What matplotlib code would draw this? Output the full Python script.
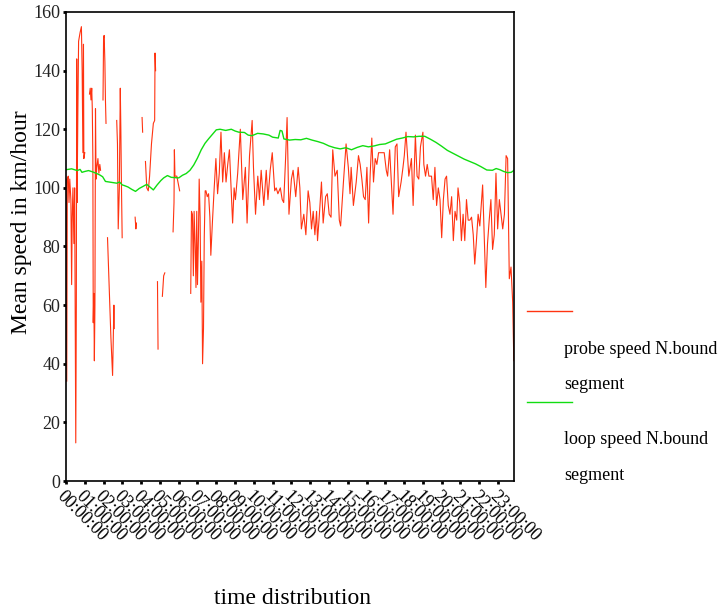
import numpy as np
import matplotlib
matplotlib.use("Agg")
import matplotlib.pyplot as plt
from matplotlib.lines import Line2D

plt.rcParams['font.family'] = ['Liberation Serif', 'DejaVu Serif']

nan = np.nan

# ---- data (hours of day, km/h) ----
loop_hours = [0.0, 0.3, 0.6, 0.75, 0.85, 1.0, 1.2, 1.4, 1.6, 1.8, 1.95, 2.1, 2.3, 2.5, 2.7, 2.85, 3.0, 3.1,
              3.3, 3.5, 3.7, 3.9, 4.1, 4.3, 4.45, 4.65, 4.85, 5.05, 5.2, 5.4, 5.6, 5.8, 6.0, 6.2, 6.4, 6.6,
              6.8, 7.0, 7.2, 7.4, 7.6, 7.8, 8.0, 8.2, 8.5, 8.8, 9.0, 9.2, 9.5, 9.7, 9.9, 10.2, 10.5, 10.8,
              11.0, 11.3, 11.4, 11.5, 11.6, 11.9, 12.2, 12.5, 12.8, 13.1, 13.4, 13.7, 14.0, 14.3, 14.6,
              14.9, 15.2, 15.5, 15.8, 16.1, 16.4, 16.7, 17.0, 17.3, 17.6, 17.9, 18.2, 18.5, 18.8, 19.1,
              19.4, 19.7, 20.0, 20.3, 20.6, 20.9, 21.2, 21.5, 21.8, 22.1, 22.4, 22.7, 22.9, 23.1, 23.3,
              23.5, 23.7, 23.9]
loop_speed = [106.2, 106.5, 105.9, 106.3, 105.3, 105.6, 105.9, 105.5, 105.0, 104.4, 103.8, 102.2, 102.0,
              101.8, 101.6, 102.0, 101.0, 100.8, 100.3, 99.5, 98.8, 99.8, 100.5, 101.2, 100.4, 99.3, 101.0,
              102.5, 103.4, 104.2, 103.6, 103.5, 103.4, 104.3, 104.9, 106.0, 107.8, 110.2, 113.0, 115.2,
              116.8, 118.3, 119.8, 120.0, 119.6, 120.0, 119.4, 119.0, 118.9, 118.0, 117.8, 118.6, 118.4,
              118.0, 117.3, 117.0, 119.6, 119.4, 116.7, 116.3, 116.5, 116.4, 116.9, 116.3, 115.8, 115.2,
              114.3, 113.7, 113.3, 113.7, 113.0, 113.8, 114.4, 114.0, 114.3, 114.8, 115.0, 115.8, 116.6,
              117.0, 117.5, 117.4, 117.6, 117.6, 116.6, 115.5, 114.2, 112.8, 111.8, 110.8, 109.8, 109.0,
              108.2, 107.2, 106.1, 106.0, 106.6, 106.2, 105.6, 105.2, 105.3, 106.2]

probe_hours = [
    0.00, 0.04, 0.07, 0.12, 0.16, 0.20, 0.26, 0.30, 0.33, 0.37, 0.42, 0.46, 0.50, 0.52, 0.55, 0.57, 0.59,
    0.63, 0.67, 0.75, 0.82, 0.86, 0.90, 0.93, 0.95, 1.00, 1.02,
    1.25, 1.29, 1.33, 1.37, 1.40, 1.43, 1.45, 1.48, 1.51, 1.54, 1.57, 1.60, 1.64, 1.70, 1.75, 1.80, 1.84, 1.86,
    1.97, 2.00, 2.03, 2.07, 2.10, 2.13, 2.17, 2.18,
    2.21, 2.30, 2.39, 2.48, 2.55, 2.57, 2.58,
    2.70, 2.74, 2.78, 2.84, 2.89, 2.92, 2.95, 2.99, 3.00,
    3.68, 3.72, 3.75, 3.76,
    4.05, 4.08, 4.09,
    4.23, 4.30, 4.38, 4.45, 4.55, 4.65, 4.72, 4.74, 4.77, 4.78,
    4.87, 4.90, 4.91,
    5.13, 5.20, 5.26, 5.27,
    5.70, 5.75, 5.77, 5.80, 5.90, 6.05, 6.06,
    6.64, 6.68, 6.73, 6.78, 6.82, 6.87, 6.92, 6.96, 7.00, 7.05, 7.09, 7.14, 7.18, 7.23, 7.27, 7.32, 7.36,
    7.41, 7.45, 7.52, 7.59, 7.66, 7.71, 7.80, 7.89, 7.98, 8.07, 8.16, 8.25, 8.34, 8.43, 8.52, 8.61, 8.70,
    8.79, 8.87, 8.95, 9.02, 9.14, 9.28, 9.41, 9.55, 9.64, 9.77, 9.91, 9.98, 10.09, 10.21, 10.30, 10.39,
    10.53, 10.66, 10.75, 10.87, 10.98, 11.11, 11.19, 11.28, 11.41, 11.51, 11.59, 11.69, 11.77, 11.87,
    12.00, 12.09, 12.23, 12.36, 12.45, 12.53, 12.66, 12.77, 12.89, 12.98, 13.07, 13.16, 13.25, 13.34,
    13.39, 13.48, 13.60, 13.69, 13.82, 13.91, 14.01, 14.11, 14.20, 14.32, 14.44, 14.55, 14.62, 14.77,
    14.91, 15.03, 15.12, 15.18, 15.30, 15.45, 15.57, 15.66, 15.75, 15.84, 15.93, 16.02, 16.11, 16.19,
    16.28, 16.37, 16.46, 16.55, 16.64, 16.73, 16.82, 16.94, 17.05, 17.12, 17.23, 17.35, 17.41, 17.53,
    17.62, 17.71, 17.84, 17.94, 18.01, 18.10, 18.25, 18.39, 18.48, 18.60, 18.69, 18.78, 18.87, 19.00,
    19.05, 19.14, 19.23, 19.32, 19.46, 19.55, 19.64, 19.73, 19.82, 19.91, 20.00, 20.09, 20.18, 20.26,
    20.35, 20.44, 20.53, 20.62, 20.71, 20.80, 20.87, 20.96, 21.05, 21.14, 21.23, 21.32, 21.41, 21.50,
    21.59, 21.68, 21.76, 21.85, 21.94, 22.03, 22.18, 22.26, 22.35, 22.44, 22.53, 22.62, 22.71, 22.80,
    22.89, 22.98, 23.07, 23.16, 23.25, 23.34, 23.43, 23.51, 23.60, 23.69, 23.78, 23.84, 23.93, 24.00]
probe_speed = [
    103, 34, 103, 104, 95, 103, 96, 67, 90, 100, 81, 100, 46, 13, 60, 144, 95,
    125, 150, 153, 155, 140, 112, 149, 110, 112, nan,
    132, 134, 130, 134, 127, 110, 54, 64, 41, 60, 127, 103, 107, 110, 105, 108, 106, nan,
    130, 151, 152, 143, 130, 122, nan, nan,
    83, 66, 49, 36, 60, 52, nan,
    123, 115, 86, 100, 134, 120, 102, 83, nan,
    90, 86, 88, nan,
    124, 119, nan,
    109, 100, 99, 104, 115, 122, 123, 146, 140, nan,
    68, 45, nan,
    63, 70, 71, nan,
    85, 95, 113, 104, 104, 99, nan,
    64, 92, 91, 70, 92, 81, 66, 92, 67, 83, 103, 90, 61, 75, 40, 52, 83,
    99, 99, 97, 98, 90, 77, 89, 100, 110, 98, 105, 119, 102, 112, 102, 108, 113,
    100, 88, 100, 96, 105, 120, 96, 107, 88, 111, 123, 107, 91, 104, 96, 106,
    94, 106, 96, 106, 112, 99, 100, 98, 100, 96, 95, 110, 124, 91,
    103, 106, 97, 107, 100, 86, 91, 84, 99, 95, 86, 92, 84, 92,
    82, 90, 102, 88, 97, 98, 91, 90, 113, 104, 106, 89, 87, 102,
    115, 107, 98, 107, 94, 102, 111, 108, 103, 97, 96, 107, 88, 104,
    117, 102, 110, 108, 112, 112, 112, 112, 106, 104, 113, 98, 91, 114,
    115, 97, 102, 107, 111, 119, 104, 110, 94, 118, 104, 103, 114, 119,
    108, 104, 108, 104, 104, 96, 107, 94, 100, 96, 83, 96, 103, 104,
    94, 91, 97, 82, 92, 89, 100, 95, 82, 91, 82, 96, 89, 89,
    90, 84, 74, 82, 91, 87, 101, 84, 66, 81, 89, 96, 79, 84,
    105, 86, 96, 91, 86, 91, 111, 110, 69, 73, 61, 41, 66, 100]

tick_labels = [f"{h:02d}:00:00" for h in range(24)]

# ---- figure ----
fig = plt.figure(figsize=(7.23, 6.11), dpi=100)
ax = fig.add_axes([66/723, 1-481/611, 448/723, 469/611])

ax.plot(probe_hours, probe_speed, color='#ff3311', lw=0.8)
ax.plot(loop_hours, loop_speed, color='#11dd11', lw=1.0)

ax.set_xlim(0, 23.85)
ax.set_ylim(0, 160)
ax.set_yticks(range(0, 161, 20))
ax.set_xticks(range(24))
ax.set_xticklabels(tick_labels, rotation=-45, ha='left', va='top', rotation_mode='anchor', fontsize=13)
ax.tick_params(axis='y', labelsize=13, length=2, width=2, pad=2, color='black', labelcolor='#222222')
ax.tick_params(axis='x', length=2, width=2, pad=3, color='black')
for s in ax.spines.values():
    s.set_linewidth(1.2)
    s.set_color('black')

fig.text(22/723, 1-222/611, "Mean speed in km/hour", rotation=90, ha='center', va='center', fontsize=17)
fig.text(292/723, 1-599/611, "time distribution", ha='center', va='center', fontsize=17)

# legend (manually laid out: handle above wrapped label)
fig.add_artist(Line2D([527/723, 572/723], [1-311/611, 1-311/611], color='#ff3311', lw=1.0))
fig.text(564/723, 1-354/611, "probe speed N.bound", ha='left', va='baseline', fontsize=13)
fig.text(564/723, 1-389/611, "segment", ha='left', va='baseline', fontsize=13)
fig.add_artist(Line2D([527/723, 572/723], [1-402/611, 1-402/611], color='#11dd11', lw=1.0))
fig.text(564/723, 1-444/611, "loop speed N.bound", ha='left', va='baseline', fontsize=13)
fig.text(564/723, 1-480/611, "segment", ha='left', va='baseline', fontsize=13)

fig.savefig("out.png", dpi=100)
